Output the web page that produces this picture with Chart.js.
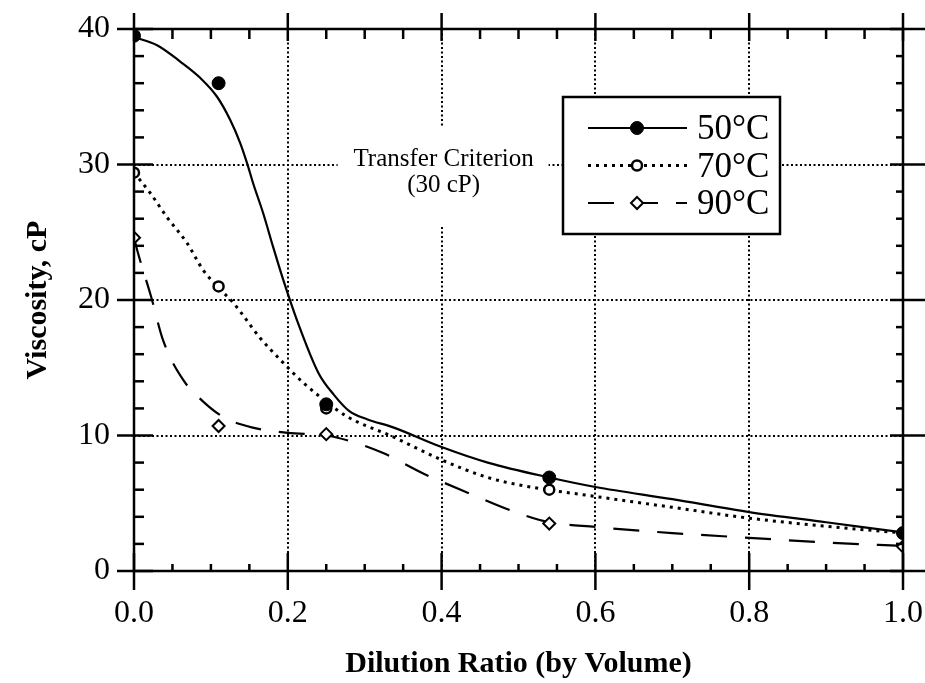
<!DOCTYPE html>
<html>
<head>
<meta charset="utf-8">
<script src="https://cdn.jsdelivr.net/npm/chart.js@4/dist/chart.umd.min.js"></script>
<style>
  body { margin: 0; background: #fff; }
  #wrap { width: 925px; height: 683px; }
</style>
</head>
<body>
<div id="wrap"><canvas id="myChart" width="925" height="683"></canvas></div>
<script>
// measured points (dilution ratio vs viscosity)
const ratios = [0, 0.11, 0.25, 0.54, 1.0];
const visc50 = [39.5, 36.0, 12.3, 6.9, 2.8];
const visc70 = [29.4, 21.0, 12.0, 6.0, 2.8];
const visc90 = [24.6, 10.7, 10.1, 3.5, 1.8];

// fitted curves
const fit50X = [0, 0.03, 0.06, 0.086, 0.108, 0.125, 0.138, 0.147, 0.155, 0.168, 0.181, 0.194, 0.212, 0.24, 0.26, 0.28, 0.303, 0.337, 0.4, 0.46, 0.54, 0.6, 0.7, 0.8, 0.9, 1.0];
const fit50Y = [39.4, 38.8, 37.6, 36.4, 35.0, 33.3, 31.6, 30.1, 28.6, 26.4, 23.9, 21.5, 18.5, 14.6, 13.0, 11.8, 11.2, 10.6, 9.15, 8.0, 6.9, 6.2, 5.3, 4.35, 3.6, 2.85];
const fit70X = [0, 0.021, 0.043, 0.069, 0.09, 0.11, 0.129, 0.164, 0.19, 0.22, 0.25, 0.277, 0.337, 0.4, 0.46, 0.506, 0.6, 0.7, 0.8, 0.9, 1.0];
const fit70Y = [29.4, 27.9, 26.1, 24.2, 22.2, 20.9, 19.8, 17.2, 15.6, 13.9, 12.5, 11.4, 9.9, 8.2, 6.9, 6.3, 5.5, 4.7, 3.9, 3.3, 2.8];
const fit90X = [0, 0.005, 0.022, 0.038, 0.064, 0.09, 0.118, 0.153, 0.2, 0.25, 0.28, 0.324, 0.376, 0.433, 0.498, 0.54, 0.6, 0.7, 0.8, 0.9, 1.0];
const fit90Y = [24.6, 23.5, 20.3, 17.0, 14.1, 12.5, 11.3, 10.6, 10.2, 10.0, 9.6, 8.7, 7.2, 5.8, 4.3, 3.6, 3.25, 2.8, 2.45, 2.1, 1.85];

const seriesNames = ['50°C', '70°C', '90°C'];
const criterion = { x: 0.4, y: 30, lines: ['Transfer Criterion', '(30 cP)'] };

const SERIF = '"Liberation Serif", "DejaVu Serif", serif';

function pts(xs, ys) { return xs.map((x, i) => ({ x: x, y: ys[i] })); }

const lineStyles = [
  { dash: [], width: 2.2 },
  { dash: [3, 5], width: 3 },
  { dash: [26, 18], width: 2.2 }
];
const markStyles = [
  { style: 'circle', r: 6.5, fill: '#000', bw: 1 },
  { style: 'circle', r: 5, fill: '#fff', bw: 2.5 },
  { style: 'rectRot', r: 6, fill: '#fff', bw: 2 }
];

function markDataset(label, ys, i) {
  const m = markStyles[i];
  return {
    label: label, data: pts(ratios, ys), showLine: false,
    pointStyle: m.style, pointRadius: m.r, pointBackgroundColor: m.fill,
    pointBorderColor: '#000', pointBorderWidth: m.bw
  };
}
function fitDataset(label, xs, ys, i) {
  const s = lineStyles[i];
  return {
    label: label, data: pts(xs, ys), showLine: true, pointRadius: 0,
    borderColor: '#000', borderWidth: s.width, borderDash: s.dash,
    cubicInterpolationMode: 'monotone'
  };
}

function drawLine(ctx, x1, y1, x2, y2) {
  ctx.beginPath(); ctx.moveTo(x1, y1); ctx.lineTo(x2, y2); ctx.stroke();
}

// frame, inward ticks, criterion label and boxed legend
const decor = {
  id: 'decor',
  beforeDatasetsDraw(chart) {
    const { ctx, scales: { x, y } } = chart;
    const cx = x.getPixelForValue(criterion.x);
    const cy = y.getPixelForValue(criterion.y);
    ctx.save();
    ctx.fillStyle = '#fff';
    ctx.fillRect(cx - 104, cy - 37, 211, 98);
    ctx.fillStyle = '#000';
    ctx.font = '25px ' + SERIF;
    ctx.textAlign = 'center';
    ctx.textBaseline = 'alphabetic';
    ctx.fillText(criterion.lines[0], cx + 2, cy + 1);
    ctx.fillText(criterion.lines[1], cx + 2, cy + 27);
    ctx.restore();
  },
  afterDraw(chart) {
    const { ctx, chartArea: a, scales: { x, y } } = chart;
    ctx.save();
    ctx.strokeStyle = '#000';
    ctx.lineWidth = 2.5;
    ctx.strokeRect(a.left, a.top, a.right - a.left, a.bottom - a.top);

    for (let v = 0; v <= 1.0001; v += 0.05) {
      const px = x.getPixelForValue(v);
      const major = Math.abs(v / 0.2 - Math.round(v / 0.2)) < 1e-6;
      if (major) {
        drawLine(ctx, px, a.bottom - 18, px, a.bottom + 19);
        drawLine(ctx, px, a.top - 16, px, a.top + 12);
      } else {
        drawLine(ctx, px, a.bottom - 7, px, a.bottom);
        drawLine(ctx, px, a.top, px, a.top + 10);
      }
    }
    for (let v = 0; v <= 40.001; v += 2) {
      const py = y.getPixelForValue(v);
      if (v % 10 === 0) {
        drawLine(ctx, a.left - 17, py, a.left + 19, py);
        drawLine(ctx, a.right - 13, py, a.right + 22, py);
      } else {
        drawLine(ctx, a.left, py, a.left + 10, py);
        drawLine(ctx, a.right - 7, py, a.right, py);
      }
    }

    // legend box
    const bx = a.right - 340, by = a.top + 68, bw = 217, bh = 137;
    ctx.fillStyle = '#fff';
    ctx.fillRect(bx, by, bw, bh);
    ctx.strokeRect(bx, by, bw, bh);
    ctx.font = '35px ' + SERIF;
    ctx.textBaseline = 'middle';
    ctx.textAlign = 'left';
    seriesNames.forEach((name, i) => {
      const ry = by + 31 + i * 37.5;
      const s = lineStyles[i], m = markStyles[i];
      ctx.lineWidth = s.width;
      ctx.setLineDash(s.dash);
      drawLine(ctx, bx + 25, ry, bx + 124, ry);
      ctx.setLineDash([]);
      ctx.lineWidth = m.bw;
      ctx.fillStyle = m.fill;
      ctx.beginPath();
      const mx = bx + 74;
      if (m.style === 'rectRot') {
        ctx.moveTo(mx, ry - m.r); ctx.lineTo(mx + m.r, ry); ctx.lineTo(mx, ry + m.r); ctx.lineTo(mx - m.r, ry); ctx.closePath();
      } else {
        ctx.arc(mx, ry, m.r, 0, Math.PI * 2);
      }
      ctx.fill(); ctx.stroke();
      ctx.fillStyle = '#000';
      ctx.fillText(name, bx + 134, ry + 2);
    });
    ctx.restore();
  }
};

const gridColor = (c) => (c.tick && c.index > 0 && c.index < c.scale.ticks.length - 1) ? '#000' : 'rgba(0,0,0,0)';

function noPad(s) { s.paddingLeft = 0; s.paddingRight = 0; s.paddingTop = 0; s.paddingBottom = 0; }

const ctx = document.getElementById('myChart').getContext('2d');
new Chart(ctx, {
  type: 'scatter',
  data: {
    datasets: [
      markDataset(seriesNames[0], visc50, 0),
      markDataset(seriesNames[1], visc70, 1),
      markDataset(seriesNames[2], visc90, 2),
      fitDataset(seriesNames[0] + ' fit', fit50X, fit50Y, 0),
      fitDataset(seriesNames[1] + ' fit', fit70X, fit70Y, 1),
      fitDataset(seriesNames[2] + ' fit', fit90X, fit90Y, 2)
    ]
  },
  options: {
    responsive: false,
    animation: false,
    layout: { padding: { top: 29, right: 22, left: 0, bottom: 0 } },
    plugins: { legend: { display: false }, tooltip: { enabled: false } },
    scales: {
      x: {
        type: 'linear', min: 0, max: 1.0,
        afterFit: (s) => { s.height = 112; noPad(s); },
        ticks: { stepSize: 0.2, padding: 23, color: '#000', font: { family: SERIF, size: 32 },
          callback: (v) => v.toFixed(1) },
        grid: { drawTicks: false, color: gridColor, lineWidth: 2 },
        border: { display: false, dash: [2, 2.5] },
        title: { display: true, text: 'Dilution Ratio (by Volume)', color: '#000',
          font: { family: SERIF, size: 30, weight: 'bold' }, padding: { bottom: 1 } }
      },
      y: {
        type: 'linear', min: 0, max: 40,
        afterFit: (s) => { s.width = 134; noPad(s); },
        ticks: { stepSize: 10, padding: 24, color: '#000', font: { family: SERIF, size: 32 } },
        grid: { drawTicks: false, color: gridColor, lineWidth: 2 },
        border: { display: false, dash: [2, 2.5] },
        title: { display: true, text: 'Viscosity, cP', color: '#000',
          font: { family: SERIF, size: 30, weight: 'bold' }, padding: { top: 20 } }
      }
    }
  },
  plugins: [decor]
});
</script>
</body>
</html>
